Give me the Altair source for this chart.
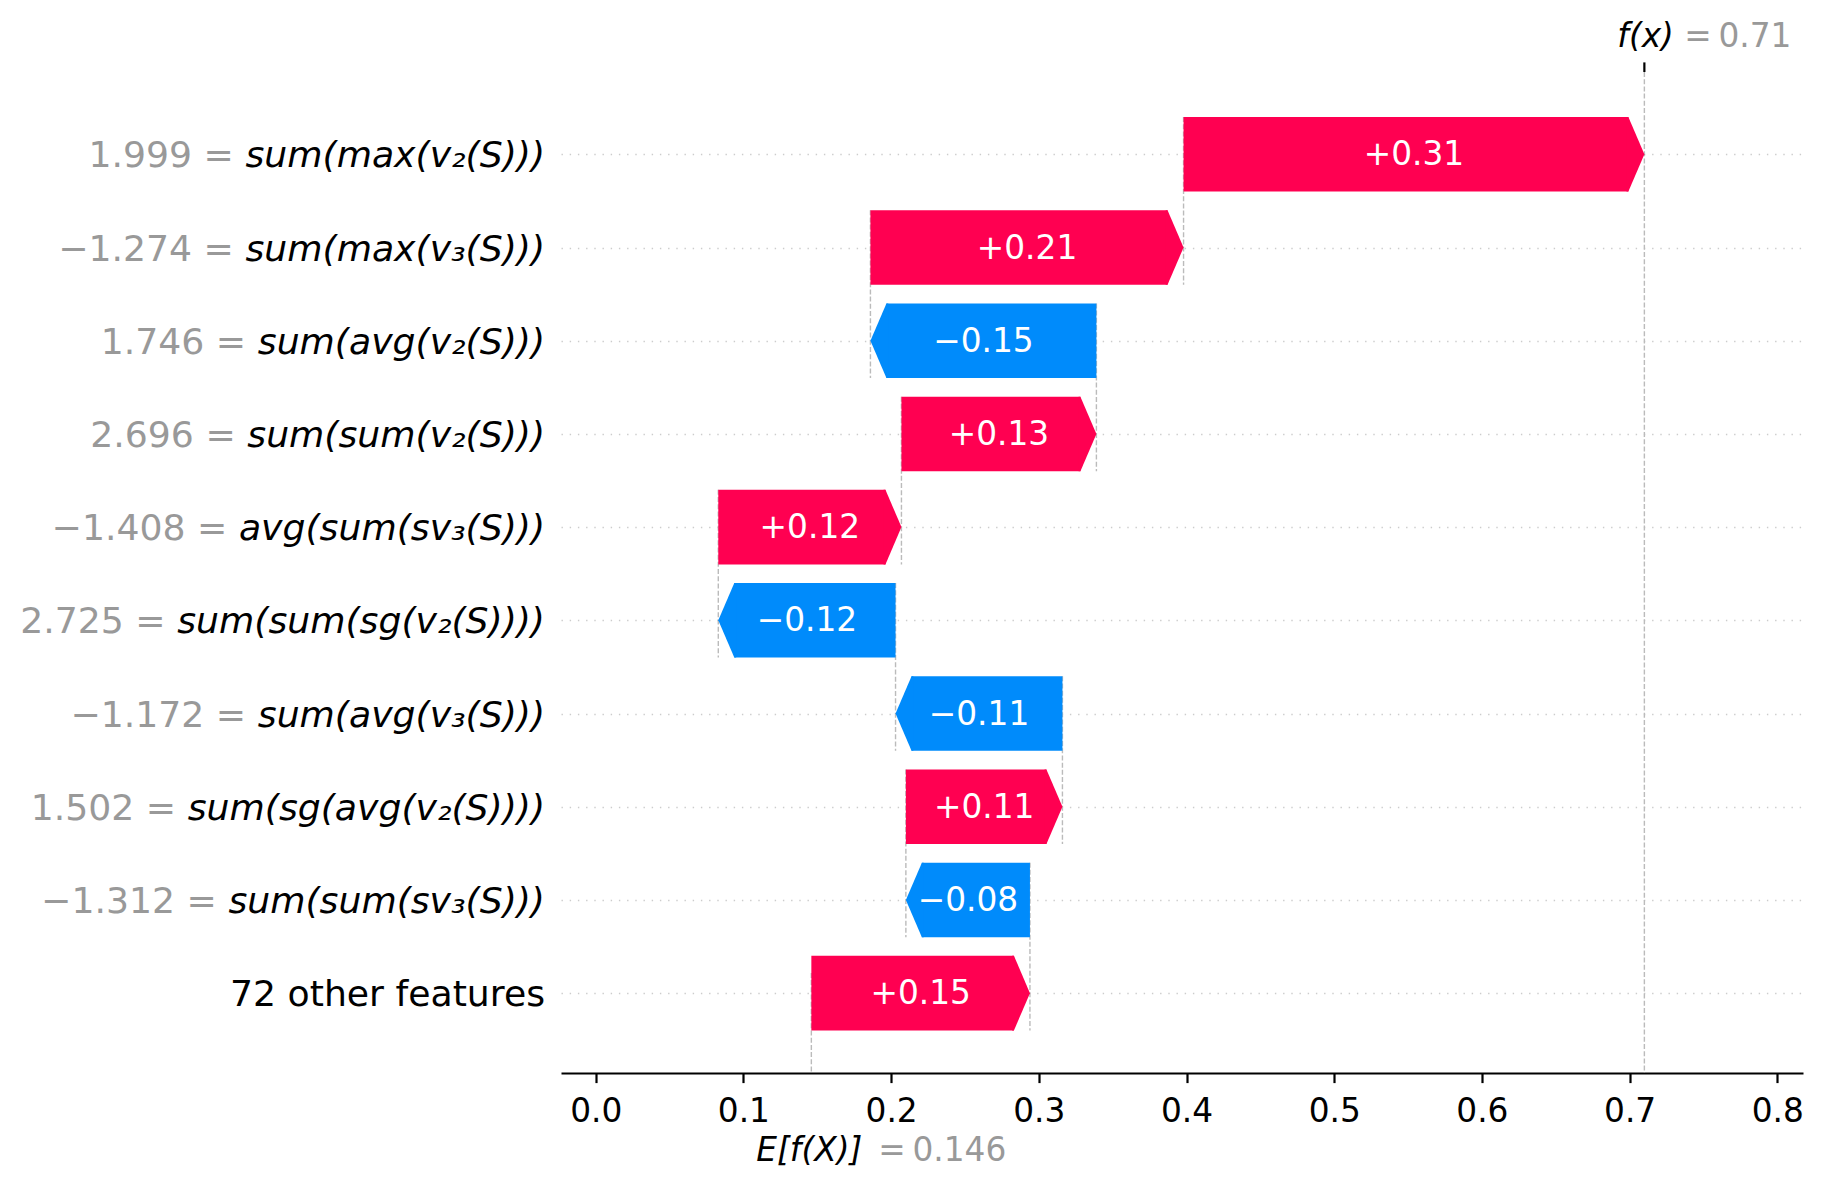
import altair as alt
import pandas as pd

# ---------------- data ----------------
feature_names = [
    "sum(max(v₂(S)))", "sum(max(v₃(S)))", "sum(avg(v₂(S)))", "sum(sum(v₂(S)))",
    "avg(sum(sv₃(S)))", "sum(sum(sg(v₂(S))))", "sum(avg(v₃(S)))", "sum(sg(avg(v₂(S))))",
    "sum(sum(sv₃(S)))", "72 other features",
]
feature_values = ["1.999", "−1.274", "1.746", "2.696", "−1.408", "2.725", "−1.172", "1.502", "−1.312", ""]
shap_values = [0.312, 0.212, -0.153, 0.132, 0.124, -0.120, -0.113, 0.106, -0.084, 0.148]
base_value = 0.146
fx_value = 0.710
x_ticks = [0.0, 0.1, 0.2, 0.3, 0.4, 0.5, 0.6, 0.7, 0.8]

RED = "#ff0051"
BLUE = "#008bfb"
GRAY = "#999999"
FONT = "DejaVu Sans"

# ---------------- layout ----------------
W, H = 1242, 1001
X0, X1 = -0.0235, 0.8174
Y0, Y1 = -0.883, 9.857
ROW_PX = H / (Y1 - Y0)
BAR_H = 0.8
BAR_PX = BAR_H * ROW_PX
HEAD_PX = 16.0
HEAD_DATA = HEAD_PX * (X1 - X0) / W
LABEL_SIZE = 36.2
TICK_SIZE = 32.8

# character advance widths of DejaVu Sans (units per em = 2048)
ADV = {'s': 1067, 'u': 1298, 'm': 1995, 'a': 1255, 'v': 1212, 'x': 1212, 'g': 1300,
       'S': 1300, '(': 799, ')': 799, '₂': 821, '₃': 821, ' ': 651}


def text_width(t, size):
    return sum(ADV.get(c, 1200) for c in t) / 2048.0 * size


rows = []
loc = fx_value
for i, (name, val, s) in enumerate(zip(feature_names, feature_values, shap_values)):
    loc -= s
    start = loc
    end = loc + s
    left, right = min(start, end), max(start, end)
    pos = s >= 0
    lbl = f"{s:+.2f}".replace("-", "−")
    rows.append(dict(
        row=i, name=name, val=val, start=start,
        left=left, right=right,
        body_l=left if pos else left + HEAD_DATA,
        body_r=right - HEAD_DATA if pos else right,
        tip=right if pos else left,
        dir="pos" if pos else "neg",
        y0=i - BAR_H / 2, y1=i + BAR_H / 2,
        mid=(left + right) / 2, lbl=lbl,
    ))
bars = pd.DataFrame(rows)

LABEL_X = -16
labels = bars[["row", "name", "val"]].copy()
labels["lx"] = LABEL_X
labels["gx"] = [LABEL_X - text_width(n, LABEL_SIZE) - text_width(" ", LABEL_SIZE) for n in labels["name"]]
feat_labels = labels[labels["val"] != ""].copy()
feat_labels["gtxt"] = feat_labels["val"] + " ="
other_labels = labels[labels["val"] == ""].copy()

# vertical dashed connector lines
vlines = []
for i in range(len(rows) - 1):
    vlines.append(dict(x=rows[i]["start"], ya=i - BAR_H / 2, yb=i + 1 + BAR_H / 2))
vlines.append(dict(x=fx_value, ya=Y0, yb=Y1))
vlines.append(dict(x=base_value, ya=Y1 - (Y1 - Y0) / 10.0, yb=Y1))
vlines = pd.DataFrame(vlines)

xs = alt.Scale(domain=[X0, X1], nice=False, zero=False)
ys = alt.Scale(domain=[Y0, Y1], nice=False, zero=False, reverse=True)
cscale = alt.Scale(domain=["pos", "neg"], range=[RED, BLUE])

AX = alt.Axis(values=x_ticks, format=".1f", title=None, grid=False,
              labelFont=FONT, labelFontSize=TICK_SIZE, labelColor="black",
              tickColor="black", tickSize=9.6, tickWidth=2.2,
              domainColor="black", domainWidth=2.2, labelPadding=12.5)
AY = alt.Axis(values=list(range(len(rows))), grid=True, gridColor="#cccccc",
              gridDash=[1.4, 6.8], gridWidth=1.4, labels=False, ticks=False,
              domain=False, title=None)


def X(field):
    return alt.X(field, scale=xs, axis=AX)


def Y(field):
    return alt.Y(field, scale=ys, axis=AY)


hl_u = HEAD_PX / (BAR_PX / 2)
ov = hl_u + 0.05
path_pos = f"M{-ov:.3f},-1L{-hl_u:.3f},-1L0,0L{-hl_u:.3f},1L{-ov:.3f},1Z"
path_neg = f"M{ov:.3f},-1L{hl_u:.3f},-1L0,0L{hl_u:.3f},1L{ov:.3f},1Z"

connectors = alt.Chart(vlines).mark_rule(color="#bbbbbb", strokeWidth=1.4, strokeDash=[5, 2.2]).encode(
    x=X("x:Q"), y=Y("ya:Q"), y2="yb:Q",
)

body = alt.Chart(bars).mark_rect().encode(
    x=X("body_l:Q"), x2="body_r:Q",
    y=Y("y0:Q"), y2="y1:Q",
    color=alt.Color("dir:N", scale=cscale, legend=None),
)

heads = alt.Chart(bars).mark_point(filled=True, opacity=1, strokeWidth=0, size=BAR_PX ** 2).encode(
    x=X("tip:Q"), y=Y("row:Q"),
    shape=alt.Shape("dir:N", scale=alt.Scale(domain=["pos", "neg"], range=[path_pos, path_neg]), legend=None),
    color=alt.Color("dir:N", scale=cscale, legend=None),
)

bar_text = alt.Chart(bars).mark_text(font=FONT, fontSize=TICK_SIZE, color="white",
                                     align="center", baseline="middle", dy=1).encode(
    x=X("mid:Q"), y=Y("row:Q"), text="lbl:N",
)

name_text = alt.Chart(feat_labels).mark_text(font=FONT, fontSize=LABEL_SIZE, fontStyle="italic",
                                             color="black", align="right", baseline="middle", dy=2).encode(
    x=alt.X("lx:Q", scale=None), y=Y("row:Q"), text="name:N",
)

other_text = alt.Chart(other_labels).mark_text(font=FONT, fontSize=LABEL_SIZE,
                                               color="black", align="right", baseline="middle", dy=2).encode(
    x=alt.X("lx:Q", scale=None), y=Y("row:Q"), text="name:N",
)

val_text = alt.Chart(feat_labels).mark_text(font=FONT, fontSize=LABEL_SIZE, color=GRAY,
                                            align="right", baseline="middle", dy=2).encode(
    x=alt.X("gx:Q", scale=None), y=Y("row:Q"), text="gtxt:N",
)

marks_df = pd.DataFrame([dict(fx=fx_value, base=base_value)])
top_tick = alt.Chart(marks_df).mark_rule(color="black", strokeWidth=2.2).encode(
    x=X("fx:Q"), y=alt.value(-9.6), y2=alt.value(0))

fx_lbl = alt.Chart(marks_df).mark_text(font=FONT, fontSize=TICK_SIZE, fontStyle="italic",
                                       color="black", align="left", baseline="alphabetic", dx=-27).encode(
    x=X("fx:Q"), y=alt.value(-25), text=alt.value("f(x)"))
fx_val = alt.Chart(marks_df).mark_text(font=FONT, fontSize=TICK_SIZE, color=GRAY,
                                       align="left", baseline="alphabetic", dx=40).encode(
    x=X("fx:Q"), y=alt.value(-25),
    text=alt.value("=\u2009" + f"{fx_value:.2f}"))

ef_lbl = alt.Chart(marks_df).mark_text(font=FONT, fontSize=TICK_SIZE, fontStyle="italic",
                                       color="black", align="left", baseline="alphabetic", dx=-55).encode(
    x=X("base:Q"), y=alt.value(H + 88), text=alt.value("E[f(X)]"))
ef_val = alt.Chart(marks_df).mark_text(font=FONT, fontSize=TICK_SIZE, color=GRAY,
                                       align="left", baseline="alphabetic", dx=67).encode(
    x=X("base:Q"), y=alt.value(H + 88),
    text=alt.value("=\u2009" + f"{base_value:.3f}"))

chart = alt.layer(
    connectors, body, heads, bar_text, name_text, other_text, val_text,
    top_tick, fx_lbl, fx_val, ef_lbl, ef_val,
).properties(
    width=W, height=H,
    background="white",
    autosize=alt.AutoSizeParams(type="none"),
    padding={"left": 553, "top": 64, "right": 15, "bottom": 106},
).configure_view(stroke=None)

chart.save("out.html", embed_options={"renderer": "svg", "actions": False})
